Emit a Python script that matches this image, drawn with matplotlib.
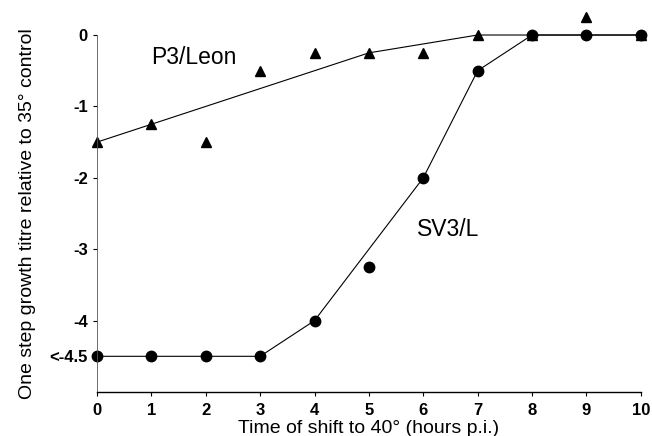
import matplotlib
matplotlib.use('Agg')
import matplotlib.pyplot as plt

plt.rcParams['font.family'] = ['Liberation Sans', 'DejaVu Sans']
plt.rcParams['axes.unicode_minus'] = False

# P3/Leon (triangles)
p3_x = [0, 1, 2, 3, 4, 5, 6, 7, 8, 9, 10]
p3_y = [-1.5, -1.25, -1.5, -0.5, -0.25, -0.25, -0.25, 0, 0, 0.25, 0]
p3_fit_x = [0, 5, 7, 10]
p3_fit_y = [-1.5, -0.25, 0, 0]

# SV3/L (circles)
sv_x = [0, 1, 2, 3, 4, 5, 6, 7, 8, 9, 10]
sv_y = [-4.5, -4.5, -4.5, -4.5, -4.0, -3.25, -2.0, -0.5, 0, 0, 0]
sv_fit_x = [0, 1, 2, 3, 4, 6, 7, 8, 9, 10]
sv_fit_y = [-4.5, -4.5, -4.5, -4.5, -4.0, -2.0, -0.5, 0, 0, 0]

xticks = list(range(11))
yticks = [0, -1, -2, -3, -4, -4.5]
ytick_labels = ['0', '-1', '-2', '-3', '-4', '<-4.5']

fig = plt.figure(figsize=(6.52, 4.36), dpi=100)
ax = fig.add_axes([0.1488, 0.1009, 0.834, 0.8188])

ax.plot(p3_fit_x, p3_fit_y, color='black', linewidth=0.8, clip_on=False)
ax.plot(sv_fit_x, sv_fit_y, color='black', linewidth=0.8, clip_on=False)
ax.plot(p3_x, p3_y, linestyle='none', marker='^', color='black', markersize=7, clip_on=False)
ax.plot(sv_x, sv_y, linestyle='none', marker='o', color='black', markersize=7.5, clip_on=False)

ax.text(1.0, -0.31, 'P3/Leon', fontsize=16.5, va='center', ha='left')
ax.text(5.88, -2.72, 'SV3/L', fontsize=16.5, va='center', ha='left')

ax.set_xlim(0, 10)
ax.set_ylim(-5, 0)
ax.set_xticks(xticks)
ax.set_yticks(yticks)
ax.set_yticklabels(ytick_labels)
ax.tick_params(axis='both', labelsize=12, length=3, width=0.8, direction='out')
ax.tick_params(axis='x', pad=5)
for lbl in ax.get_xticklabels() + ax.get_yticklabels():
    lbl.set_fontweight('bold')

for side in ['top', 'right']:
    ax.spines[side].set_visible(False)
ax.spines['left'].set_linewidth(0.6)
ax.spines['left'].set_color('#555555')
ax.spines['bottom'].set_linewidth(1.0)

ax.set_xlabel('Time of shift to 40° (hours p.i.)', fontsize=14, labelpad=1)
ax.set_ylabel('One step growth titre relative to 35° control', fontsize=14, labelpad=10)

fig.savefig('out.png', dpi=100)
